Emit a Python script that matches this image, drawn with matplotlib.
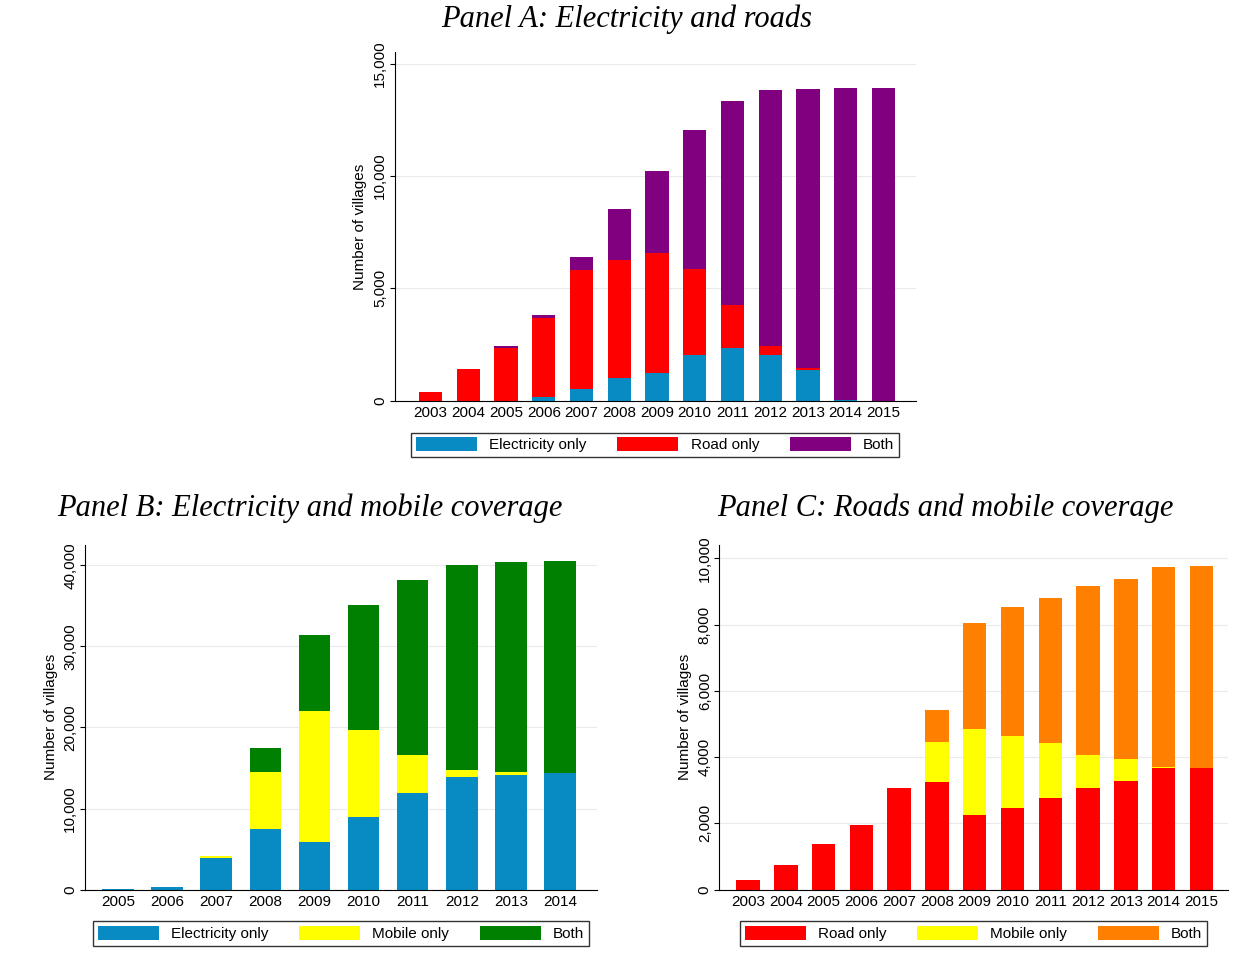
import numpy as np
import matplotlib.pyplot as plt
from matplotlib.ticker import FuncFormatter

plt.rcParams['font.family'] = ['Liberation Sans', 'DejaVu Sans']

# Panel A: electricity and roads
years_a = np.arange(2003, 2016)
elec_a = [0, 0, 0, 180, 540, 1000, 1250, 2020, 2330, 2020, 1390, 50, 0]
road_a = [400, 1400, 2350, 3520, 5290, 5280, 5300, 3850, 1930, 400, 45, 0, 0]
both_a = [0, 0, 70, 100, 570, 2240, 3670, 6190, 9060, 11390, 12425, 13850, 13900]

# Panel B: electricity and mobile coverage
years_b = np.arange(2005, 2015)
elec_b = [100, 370, 3940, 7500, 5900, 8980, 11940, 13900, 14150, 14400]
mob_b = [0, 0, 240, 7020, 16130, 10710, 4680, 870, 370, 0]
both_b = [0, 0, 0, 2960, 9350, 15390, 21530, 25230, 25850, 26090]

# Panel C: roads and mobile coverage
years_c = np.arange(2003, 2016)
road_c = [300, 730, 1370, 1950, 3070, 3250, 2250, 2460, 2770, 3070, 3280, 3680, 3680]
mob_c = [0, 0, 0, 0, 0, 1190, 2610, 2190, 1640, 1000, 670, 30, 0]
both_c = [0, 0, 0, 0, 0, 970, 3190, 3890, 4400, 5080, 5410, 6020, 6080]

BLUE = "#078bc2"
RED = "#ff0000"
PURPLE = "#800080"
YELLOW = "#ffff00"
GREEN = "#008000"
ORANGE = "#ff8000"

fig = plt.figure(figsize=(12.49, 9.68), dpi=100)
title_font = dict(family="Liberation Serif", style="italic", size=22)
commas = FuncFormatter(lambda v, p: f"{int(v):,}")


def panel(rect, years, series, colors, labels, yticks, ymax, width, xl, xr):
    ax = fig.add_axes(rect)
    x = np.arange(len(years))
    bottom = np.zeros(len(years))
    handles = []
    for vals, c, lab in zip(series, colors, labels):
        h = ax.bar(x, vals, width, bottom=bottom, color=c, label=lab)
        bottom += np.array(vals)
        handles.append(h)
    ax.set_xticks(x, [str(y) for y in years])
    ax.set_yticks(yticks)
    ax.yaxis.set_major_formatter(commas)
    for t in ax.get_yticklabels():
        t.set_rotation(90)
        t.set_va("center")
    ax.set_ylim(0, ymax)
    ax.set_xlim(-xl, len(years) - 1 + xr)
    ax.set_ylabel("Number of villages", fontsize=11)
    ax.tick_params(labelsize=11)
    ax.tick_params(axis="x", length=0, pad=4)
    ax.tick_params(axis="y", pad=2)
    ax.grid(axis="y", color="#eaeaea", lw=0.8)
    ax.set_axisbelow(True)
    for s in ["top", "right"]:
        ax.spines[s].set_visible(False)
    ax.legend(handles=handles, loc="upper center", bbox_to_anchor=(0.5, -0.07),
              ncol=3, fontsize=11, frameon=True, fancybox=False,
              edgecolor="black", handlelength=4, handleheight=1.0,
              columnspacing=2, borderpad=0.3)
    return ax


panel([0.316, 0.586, 0.417, 0.36], years_a, [elec_a, road_a, both_a],
      [BLUE, RED, PURPLE], ["Electricity only", "Road only", "Both"],
      [0, 5000, 10000, 15000], 15500, 0.62, 0.95, 0.85)
fig.text(0.502, 0.98, "Panel A: Electricity and roads", ha="center", va="center", **title_font)

panel([0.068, 0.081, 0.41, 0.356], years_b, [elec_b, mob_b, both_b],
      [BLUE, YELLOW, GREEN], ["Electricity only", "Mobile only", "Both"],
      [0, 10000, 20000, 30000, 40000], 42500, 0.64, 0.67, 0.75)
fig.text(0.248, 0.475, "Panel B: Electricity and mobile coverage", ha="center", va="center", **title_font)

panel([0.576, 0.081, 0.407, 0.356], years_c, [road_c, mob_c, both_c],
      [RED, YELLOW, ORANGE], ["Road only", "Mobile only", "Both"],
      [0, 2000, 4000, 6000, 8000, 10000], 10400, 0.62, 0.76, 0.7)
fig.text(0.757, 0.475, "Panel C: Roads and mobile coverage", ha="center", va="center", **title_font)

fig.savefig("out.png", dpi=100)
